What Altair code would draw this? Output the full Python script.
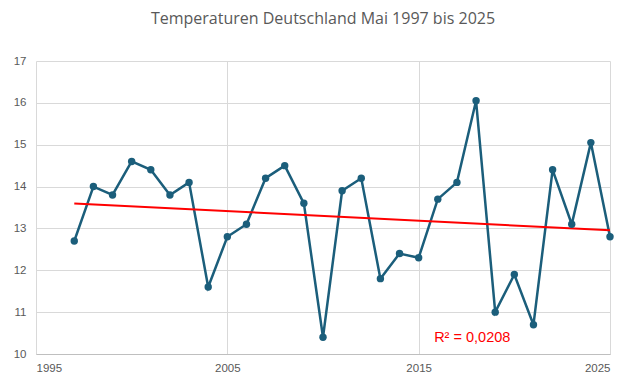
import altair as alt
import pandas as pd

years = list(range(1997, 2026))
temps = [12.7, 14.0, 13.8, 14.6, 14.4, 13.8, 14.1, 11.6, 12.8, 13.1, 14.2, 14.5, 13.6, 10.4,
         13.9, 14.2, 11.8, 12.4, 12.3, 13.7, 14.1, 16.05, 11.0, 11.9, 10.7, 14.4, 13.1, 15.05, 12.8]
x_ticks = [1995, 2005, 2015, 2025]
r2_label = ["R² = 0,0208"]
r2_pos_x = [2017.8]
r2_pos_y = [10.38]

df = pd.DataFrame({"Jahr": years, "Temp": temps})
lab = pd.DataFrame({"x": r2_pos_x, "y": r2_pos_y, "t": r2_label})

xs = alt.Scale(domain=[1995, 2025], nice=False, zero=False)
ys = alt.Scale(domain=[10, 17], nice=False, zero=False)
gray = "#595959"

xax = alt.Axis(values=x_ticks, format="d", title=None, ticks=False, labelPadding=8,
               labelColor=gray, labelFontSize=11.5, gridColor="#d9d9d9", domainColor="#bfbfbf",
               labelFont="Liberation Sans")
yax = alt.Axis(values=list(range(10, 18)), title=None, ticks=False, domain=False, labelPadding=10,
               labelColor=gray, labelFontSize=11.5, gridColor="#d9d9d9", labelFont="Liberation Sans")

base = alt.Chart(df)
line = base.mark_line(color="#1b5e7b", strokeWidth=2.5).encode(
    x=alt.X("Jahr:Q", scale=xs, axis=xax),
    y=alt.Y("Temp:Q", scale=ys, axis=yax),
)
pts = base.mark_point(color="#1b5e7b", filled=True, opacity=1, size=55).encode(
    x=alt.X("Jahr:Q", scale=xs), y=alt.Y("Temp:Q", scale=ys)
)
trend = base.transform_regression("Jahr", "Temp").mark_line(color="#ff0000", strokeWidth=2).encode(
    x=alt.X("Jahr:Q", scale=xs), y=alt.Y("Temp:Q", scale=ys)
)
text = alt.Chart(lab).mark_text(color="#ff0000", fontSize=14.5, font="Liberation Sans").encode(
    x=alt.X("x:Q", scale=xs), y=alt.Y("y:Q", scale=ys), text="t:N"
)

chart = alt.layer(line, trend, pts, text).properties(
    width=574, height=293,
    autosize=alt.AutoSizeParams(type="none"),
    padding={"left": 28, "top": 53, "right": 26, "bottom": 19},
    title=alt.TitleParams("Temperaturen Deutschland Mai 1997 bis 2025", fontSize=16,
                          font="Open Sans", fontWeight="normal", color=gray, anchor="middle",
                          offset=28),
).configure_view(stroke=None)

chart.save("out.html", embed_options={"renderer": "svg", "actions": False})
